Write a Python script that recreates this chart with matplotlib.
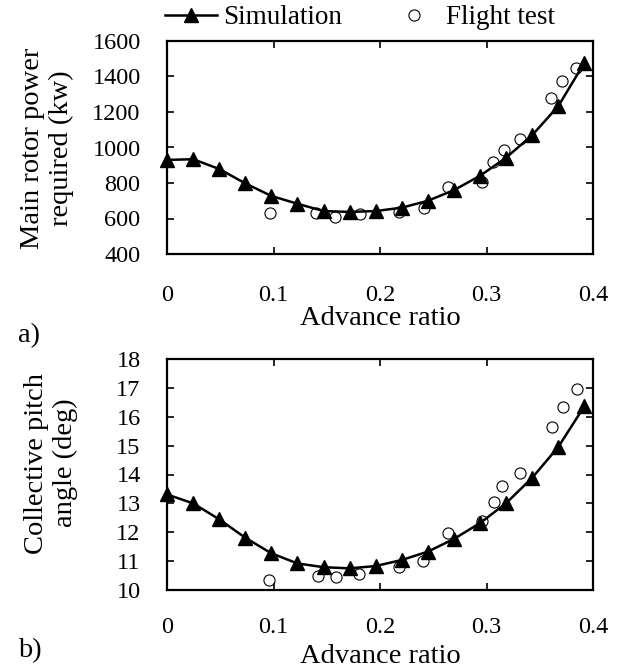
import matplotlib
matplotlib.use("Agg")
import matplotlib.pyplot as plt
from matplotlib.lines import Line2D

plt.rcParams['font.family'] = ['Liberation Serif', 'DejaVu Serif']
plt.rcParams['mathtext.fontset'] = 'stix'

# ---------------- data ----------------
mu_sim = [0.0, 0.0245, 0.049, 0.0735, 0.098, 0.1225, 0.147, 0.1715, 0.196,
          0.2205, 0.245, 0.2695, 0.294, 0.3185, 0.343, 0.3675, 0.392]
power_sim = [930, 934, 879, 798, 727, 683, 642, 637, 642, 661, 700, 760, 841,
             943, 1070, 1234, 1478]
pitch_sim = [13.31, 13.00, 12.45, 11.81, 11.27, 10.92, 10.79, 10.75, 10.83,
             11.04, 11.33, 11.77, 12.32, 13.01, 13.89, 14.96, 16.37]

mu_test_p = [0.097, 0.140, 0.158, 0.181, 0.218, 0.241, 0.264, 0.2955, 0.306,
             0.316, 0.3315, 0.3606, 0.3712, 0.3837]
power_test = [629, 633, 610, 625, 637, 657, 779, 807, 917, 986, 1048, 1277,
              1375, 1450]

mu_test_c = [0.096, 0.142, 0.159, 0.1806, 0.218, 0.240, 0.264, 0.2955, 0.307,
             0.315, 0.3315, 0.3618, 0.372, 0.3853]
pitch_test = [10.35, 10.49, 10.46, 10.55, 10.79, 11.0, 11.96, 12.39, 13.06,
              13.61, 14.06, 15.63, 16.35, 16.96]

xticks = [0, 0.1, 0.2, 0.3, 0.4]
xticklabels = ['0', '0.1', '0.2', '0.3', '0.4']
yticks_p = [400, 600, 800, 1000, 1200, 1400, 1600]
yticks_c = [10, 11, 12, 13, 14, 15, 16, 17, 18]

W, H = 623, 669
fig = plt.figure(figsize=(W / 100, H / 100), dpi=100)

def fx(px):
    return px / W

def fy(py):
    return 1 - py / H

ax1 = fig.add_axes([fx(167), fy(254), fx(593) - fx(167), fy(41) - fy(254)])
ax2 = fig.add_axes([fx(167), fy(590), fx(593) - fx(167), fy(359) - fy(590)])

TICK_FS = 17.5
LABEL_FS = 20.5

for ax, xs, ys, xt, yt, yticks, ylim, xpad in [
        (ax1, mu_sim, power_sim, mu_test_p, power_test, yticks_p, (400, 1600), 22),
        (ax2, mu_sim, pitch_sim, mu_test_c, pitch_test, yticks_c, (10, 18), 19.5)]:
    ax.plot(xs, ys, color='black', lw=1.8, marker='^', ms=9.5,
            markerfacecolor='black', markeredgecolor='black', zorder=3,
            clip_on=False)
    ax.plot(xt, yt, ls='none', marker='o', ms=8, markerfacecolor='none',
            markeredgecolor='black', markeredgewidth=0.8, zorder=4,
            clip_on=False)
    ax.set_xlim(0, 0.4)
    ax.set_ylim(*ylim)
    ax.set_xticks(xticks)
    ax.set_xticklabels(xticklabels)
    ax.set_yticks(yticks)
    ax.set_yticklabels([str(v) for v in yticks])
    ax.tick_params(axis='both', direction='in', length=5, width=1.2,
                   top=True, right=True, labelsize=TICK_FS)
    ax.tick_params(axis='x', pad=xpad)
    ax.tick_params(axis='y', pad=19)
    for s in ax.spines.values():
        s.set_linewidth(1.6)

# x axis titles
fig.text(fx(380), fy(325), 'Advance ratio', ha='center', va='baseline',
         fontsize=LABEL_FS)
fig.text(fx(380), fy(663), 'Advance ratio', ha='center', va='baseline',
         fontsize=LABEL_FS)

# y axis titles
fig.text(fx(47), fy(148), 'Main rotor power\nrequired (kw)', rotation=90,
         ha='center', va='center', multialignment='center',
         fontsize=LABEL_FS, linespacing=1.2)
fig.text(fx(51), fy(463), 'Collective pitch\nangle (deg)', rotation=90,
         ha='center', va='center', multialignment='center',
         fontsize=LABEL_FS, linespacing=1.2)

# panel labels
fig.text(fx(18), fy(342), 'a)', ha='left', va='baseline', fontsize=LABEL_FS)
fig.text(fx(18), fy(657), 'b)', ha='left', va='baseline', fontsize=LABEL_FS)

# legend
handles = [Line2D([], [], color='black', lw=1.8, marker='^', ms=9.5),
           Line2D([], [], ls='none', marker='o', ms=8, markerfacecolor='none',
                  markeredgecolor='black', markeredgewidth=0.8)]
fig.legend(handles, ['Simulation', 'Flight test'], ncol=2, frameon=False,
           loc='center', bbox_to_anchor=(fx(360), fy(18)), fontsize=19.5,
           handlelength=1.95, handletextpad=0.22, columnspacing=1.67,
           borderaxespad=0, borderpad=0)

fig.savefig('out.png', dpi=100)
